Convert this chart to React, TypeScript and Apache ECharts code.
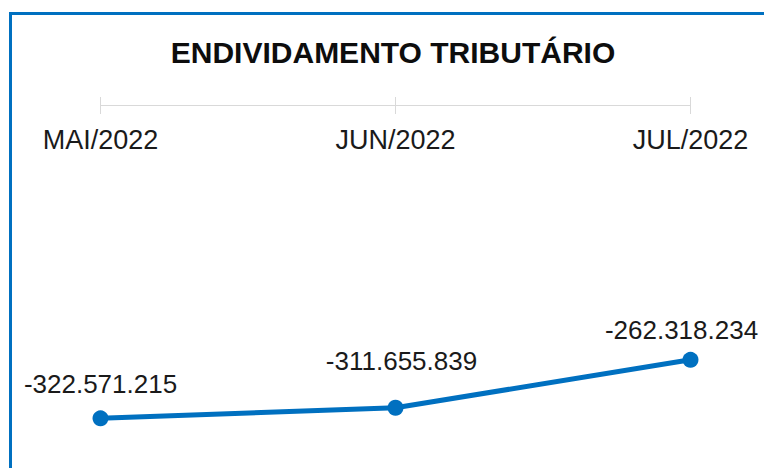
import React, { useEffect, useRef } from "react";
import * as echarts from "echarts";

const categories = ["MAI/2022", "JUN/2022", "JUL/2022"];
const values = [-322571215, -311655839, -262318234];
const titleText = "ENDIVIDAMENTO TRIBUTÁRIO";

const labelOffsets: [number, number][] = [
  [0, -34],
  [6, -47],
  [-9, -30],
];

function fmt(v: number): string {
  const neg = v < 0;
  const s = Math.abs(Math.round(v)).toString();
  const withDots = s.replace(/\B(?=(\d{3})+(?!\d))/g, ".");
  return (neg ? "-" : "") + withDots;
}

export default function App() {
  const ref = useRef<HTMLDivElement>(null);
  useEffect(() => {
    document.body.style.margin = "0";
    if (!ref.current) return;
    const chart = echarts.init(ref.current, null, { renderer: "svg" });
    const blue = "#0070C0";
    const font = "'Liberation Sans', Arial, sans-serif";
    chart.setOption({
      animation: false,
      backgroundColor: "#ffffff",
      title: {
        text: titleText,
        left: 388,
        top: 47,
        textAlign: "center",
        textVerticalAlign: "middle",
        textStyle: {
          fontFamily: font,
          fontWeight: "bold",
          fontSize: 30,
          color: "#0d0d0d",
        },
      },
      graphic: [
        {
          type: "line",
          shape: { x1: 9, y1: 13.5, x2: 764, y2: 13.5 },
          style: { stroke: blue, lineWidth: 3 },
        },
        {
          type: "line",
          shape: { x1: 10.5, y1: 12, x2: 10.5, y2: 468 },
          style: { stroke: blue, lineWidth: 3 },
        },
      ],
      grid: { left: 100.5, right: 73.5, top: 105, bottom: 23 },
      xAxis: [
        {
          type: "category",
          data: categories,
          position: "top",
          boundaryGap: false,
          axisLine: { show: true, lineStyle: { color: "#d9d9d9", width: 1 } },
          axisTick: { show: true, inside: false, length: 8, lineStyle: { color: "#d9d9d9" } },
          axisLabel: {
            inside: true,
            margin: 21,
            fontFamily: font,
            fontSize: 27,
            color: "#1a1a1a",
          },
          splitLine: { show: false },
        },
        {
          type: "category",
          data: categories,
          position: "top",
          boundaryGap: false,
          axisLine: { show: false },
          axisTick: { show: true, inside: true, length: 9, lineStyle: { color: "#d9d9d9" } },
          axisLabel: { show: false },
          splitLine: { show: false },
        },
      ],
      yAxis: {
        type: "value",
        min: -350000000,
        max: 0,
        show: false,
        splitLine: { show: false },
      },
      series: [
        {
          type: "line",
          xAxisIndex: 0,
          data: values.map((v, i) => ({
            value: v,
            label: { offset: labelOffsets[i] },
          })),
          symbol: "circle",
          symbolSize: 16,
          lineStyle: { color: blue, width: 5 },
          itemStyle: { color: blue },
          label: {
            show: true,
            position: "inside",
            formatter: (p: any) => fmt(p.value),
            fontFamily: font,
            fontSize: 26,
            color: "#1a1a1a",
          },
        },
      ],
    });
    return () => chart.dispose();
  }, []);
  return <div ref={ref} style={{ width: 764, height: 468 }} />;
}
